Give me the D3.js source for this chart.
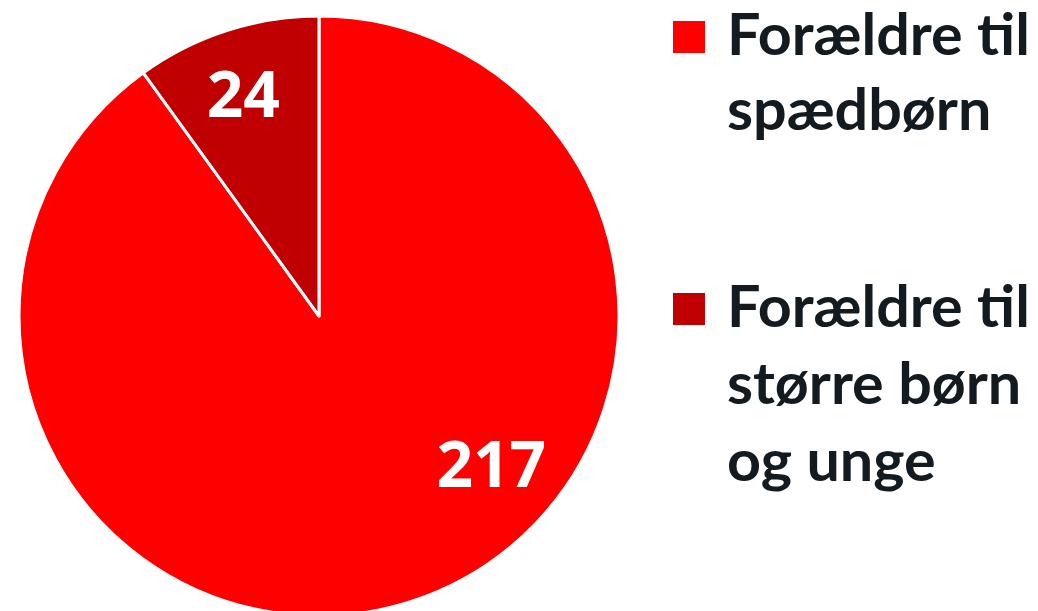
<!DOCTYPE html>
<html lang="da">
<head>
    <meta charset="UTF-8">
    <title>Forældre</title>
    <script src="https://d3js.org/d3.v7.min.js"></script>
    <style>
        body { margin: 0; background: #fff; }
        svg { display: block; font-family: "Open Sans", sans-serif; }
    </style>
</head>
<body>
<script>
    var categories = ["Forældre til spædbørn", "Forældre til større børn og unge"];
    var values = [217, 24];
    var legendLines = [["Forældre til", "spædbørn"], ["Forældre til", "større børn", "og unge"]];
    var colors = ["#ff0000", "#c00000"];

    var w = 1038;
    var h = 611;
    var cx = 319, cy = 316, r = 300;

    var svg = d3.select("body")
        .append("svg")
        .attr("width", w)
        .attr("height", h);

    var color = d3.scaleOrdinal()
        .domain(categories)
        .range(colors);

    var pie = d3.pie()
        .sort(null)
        .value(function(d){ return d; });

    var arc = d3.arc()
        .innerRadius(0)
        .outerRadius(r);

    var arcs = pie(values);

    var g = svg.append("g")
        .attr("transform", "translate(" + cx + "," + cy + ")");

    g.selectAll("path")
        .data(arcs)
        .enter()
        .append("path")
        .attr("d", arc)
        .attr("fill", function(d, i){ return color(categories[i]); })
        .attr("stroke", "#fff")
        .attr("stroke-width", 3)
        .attr("stroke-linejoin", "round");

    // excel "best fit" label spots: radius ~230, big slice label pulled toward lower right
    function labelPos(d, i){
        var a = (d.startAngle + d.endAngle) / 2;
        var rr = 233;
        if (i === 0) { a = d.startAngle + (d.endAngle - d.startAngle) * 0.403; rr = 227; }
        return [rr * Math.sin(a), -rr * Math.cos(a)];
    }

    g.selectAll("text.lbl")
        .data(arcs)
        .enter()
        .append("text")
        .attr("class", "lbl")
        .attr("x", function(d, i){ return labelPos(d, i)[0] - (i === 1 ? 4 : 0); })
        .attr("y", function(d, i){ return labelPos(d, i)[1]; })
        .attr("dy", "0.36em")
        .attr("text-anchor", "middle")
        .attr("fill", "#fff")
        .attr("font-weight", "bold")
        .attr("font-size", 64)
        .text(function(d){ return d.value; });

    var legend = svg.selectAll("g.legend")
        .data(categories)
        .enter()
        .append("g")
        .attr("class", "legend")
        .attr("transform", function(d, i){ return "translate(673," + (i === 0 ? 21 : 293) + ")"; });

    legend.append("rect")
        .attr("width", 32)
        .attr("height", 32)
        .attr("fill", function(d){ return color(d); });

    legend.each(function(d, i){
        var holder = d3.select(this).append("g")
            .attr("transform", "translate(54,0)");
        var t = holder.append("text")
            .attr("x", 0)
            .attr("y", 34)
            .attr("fill", "#131b20")
            .attr("font-family", "Lato, sans-serif")
            .attr("font-weight", "bold")
            .attr("font-size", 57);
        t.selectAll("tspan")
            .data(legendLines[i])
            .enter()
            .append("tspan")
            .attr("x", 0)
            .attr("dy", function(l, j){ return j === 0 ? 0 : (i === 0 ? 75 : 77); })
            .text(function(l){ return l; });
        // squeeze so "Forældre til" spans ~303px like the original
        var first = t.select("tspan").node().getComputedTextLength();
        holder.attr("transform", "translate(54,0) scale(" + (303 / first) + ",1)");
    });
</script>
</body>
</html>
